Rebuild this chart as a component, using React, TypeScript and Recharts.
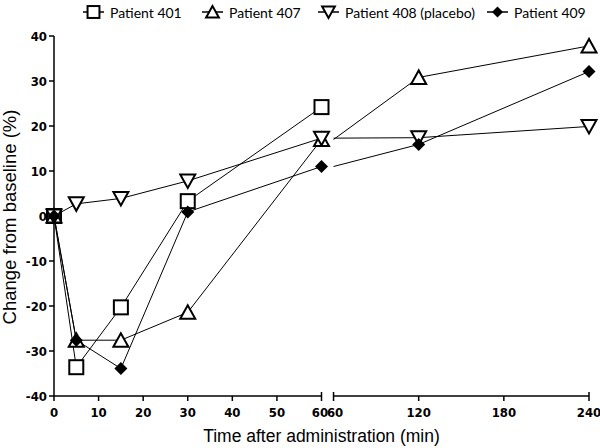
import { LineChart, Line, XAxis, YAxis, ReferenceLine } from 'recharts'

// time points (min) and % change from baseline
const times = [0, 5, 15, 30, 60, 120, 240]
const patient401 = [0, -33.6, -20.3, 3.3, 24.2, null, null]
const patient407 = [0, -27.6, -27.6, -21.4, 17.0, 30.8, 37.8]
const patient408 = [0, 2.7, 3.9, 7.8, 17.3, 17.4, 19.9]
const patient409 = [0, -27.6, -33.9, 0.9, 11.0, 15.9, 32.1]

const leftTicks = [0, 10, 20, 30, 40, 50, 60]
const rightTicks = [60, 120, 180, 240]
const yTicks = [-40, -30, -20, -10, 0, 10, 20, 30, 40]

// broken x axis: 0-60 on the left half, 60-240 compressed on the right
const BREAK_AT = 60
const GAP = 2.7
const RIGHT_SCALE = 57.3 / 180
const X_MAX = 120
const toPos = (t: number, seg: number) => (seg === 1 ? t : BREAK_AT + GAP + (t - BREAK_AT) * RIGHT_SCALE)

type Row = { pos: number; hideDot?: boolean; [k: string]: number | null | boolean | undefined }

const rows: Row[] = []
times.forEach((t, i) => {
  if (t <= BREAK_AT)
    rows.push({ pos: toPos(t, 1), p401: patient401[i], p407: patient407[i], p408: patient408[i], p409: patient409[i] })
})
rows.push({ pos: BREAK_AT + GAP / 2, p401: null, p407: null, p408: null, p409: null })
times.forEach((t, i) => {
  if (t >= BREAK_AT)
    rows.push({
      pos: toPos(t, 2),
      hideDot: t === BREAK_AT,
      p401: patient401[i],
      p407: patient407[i],
      p408: patient408[i],
      p409: patient409[i],
    })
})

const xTickPos = [...leftTicks.map((t) => toPos(t, 1)), ...rightTicks.map((t) => toPos(t, 2))]
const xTickText = [...leftTicks, ...rightTicks]
const segEnds = [toPos(BREAK_AT, 1), toPos(BREAK_AT, 2), toPos(240, 2)]

const NARROW = "'Liberation Sans Narrow', 'Arial Narrow', 'DejaVu Sans Condensed', Arial, sans-serif"
const ARIAL = "'Liberation Sans', Arial, sans-serif"

type Shape = 'square' | 'up' | 'down' | 'diamond'

function Marker({ cx, cy, shape, s = 1 }: { cx: number; cy: number; shape: Shape; s?: number }) {
  if (shape === 'square')
    return <rect x={cx - 7 * s} y={cy - 7 * s} width={14 * s} height={14 * s} fill="#fff" stroke="#000" strokeWidth={2} />
  if (shape === 'up')
    return (
      <polygon
        points={`${cx},${cy - 7 * s} ${cx - 7.5 * s},${cy + 6.5 * s} ${cx + 7.5 * s},${cy + 6.5 * s}`}
        fill="#fff"
        stroke="#000"
        strokeWidth={2}
      />
    )
  if (shape === 'down')
    return (
      <polygon
        points={`${cx - 7.5 * s},${cy - 6.5 * s} ${cx + 7.5 * s},${cy - 6.5 * s} ${cx},${cy + 7 * s}`}
        fill="#fff"
        stroke="#000"
        strokeWidth={2}
      />
    )
  return (
    <polygon
      points={`${cx},${cy - 6.5 * s} ${cx + 6.5 * s},${cy} ${cx},${cy + 6.5 * s} ${cx - 6.5 * s},${cy}`}
      fill="#000"
    />
  )
}

const makeDot = (shape: Shape) => (props: any) => {
  const { cx, cy, payload, value, index, dataKey } = props
  if (value == null || cy == null || payload?.hideDot) return <g key={`${dataKey}-${index}`} />
  return (
    <g key={`${dataKey}-${index}`}>
      <Marker cx={cx} cy={cy} shape={shape} />
    </g>
  )
}

function XTick(props: any) {
  const { x, y, payload, index } = props
  const isEnd = segEnds.some((p) => Math.abs(p - payload.value) < 0.01)
  // the two "60" labels at the break sit almost against each other
  const nudge = index === leftTicks.length - 1 ? -1.5 : index === leftTicks.length ? 1.5 : 0
  return (
    <g>
      <line x1={x} x2={x} y1={isEnd ? y - 4 : y} y2={y + 5} stroke="#000" strokeWidth={1.5} />
      <text x={x + nudge} y={y + 21} textAnchor="middle" fontFamily={NARROW} fontWeight="bold" fontSize={13} fill="#000">
        {xTickText[index]}
      </text>
    </g>
  )
}

function XTitle(props: any) {
  const vb = props.viewBox || { x: 54, y: 396, width: 535 }
  return (
    <text x={vb.x + vb.width / 2} y={vb.y + 46} textAnchor="middle" fontFamily={ARIAL} fontSize={17.5} fill="#000">
      Time after administration (min)
    </text>
  )
}

function YTitle(props: any) {
  const vb = props.viewBox || { x: 0, y: 36, height: 360 }
  const cy = vb.y + vb.height / 2 + 1
  return (
    <text
      x={15.5}
      y={cy}
      transform={`rotate(-90 15.5 ${cy})`}
      textAnchor="middle"
      fontFamily={ARIAL}
      fontSize={18.5}
      fill="#000"
    >
      Change from baseline (%)
    </text>
  )
}

const series: { key: string; name: string; shape: Shape }[] = [
  { key: 'p401', name: 'Patient 401', shape: 'square' },
  { key: 'p407', name: 'Patient 407', shape: 'up' },
  { key: 'p408', name: 'Patient 408 (placebo)', shape: 'down' },
  { key: 'p409', name: 'Patient 409', shape: 'diamond' },
]

const legendLeft = [83, 202, 318, 487]

function LegendRow() {
  return (
    <div style={{ position: 'absolute', left: 0, top: 0, width: 600, height: 26 }}>
      {series.map((s, i) => (
        <div
          key={s.key}
          style={{ position: 'absolute', left: legendLeft[i], top: 3, height: 18, display: 'flex', alignItems: 'center' }}
        >
          <svg width={21} height={18}>
            <line x1={0} x2={21} y1={9} y2={9} stroke="#000" strokeWidth={1.5} />
            <Marker cx={10.5} cy={9} shape={s.shape} s={0.85} />
          </svg>
          <span style={{ marginLeft: 6, fontFamily: 'Lato, sans-serif', fontSize: 14, color: '#000', whiteSpace: 'nowrap' }}>
            {s.name}
          </span>
        </div>
      ))}
    </div>
  )
}

export default function App() {
  return (
    <div style={{ position: 'absolute', left: 0, top: 0, width: 600, height: 448, background: '#fff' }}>
      <LineChart width={600} height={448} data={rows} margin={{ top: 36, right: 11, bottom: 0, left: 0 }}>
        <XAxis
          dataKey="pos"
          type="number"
          domain={[0, X_MAX]}
          ticks={xTickPos}
          interval={0}
          axisLine={false}
          tickLine={false}
          tickSize={0}
          tickMargin={0}
          height={52}
          tick={<XTick />}
          label={<XTitle />}
        />
        <YAxis
          type="number"
          domain={[-40, 40]}
          ticks={yTicks}
          interval={0}
          width={54}
          axisLine={{ stroke: '#000', strokeWidth: 1.5 }}
          tickLine={{ stroke: '#000', strokeWidth: 1.5 }}
          tickSize={5}
          tickMargin={2}
          tick={{ fill: '#000', fontSize: 13, fontWeight: 'bold', fontFamily: NARROW }}
          label={<YTitle />}
        />
        <ReferenceLine
          segment={[
            { x: 0, y: -40 },
            { x: toPos(BREAK_AT, 1), y: -40 },
          ]}
          stroke="#000"
          strokeWidth={1.5}
        />
        <ReferenceLine
          segment={[
            { x: toPos(BREAK_AT, 2), y: -40 },
            { x: X_MAX, y: -40 },
          ]}
          stroke="#000"
          strokeWidth={1.5}
        />
        {series.map((s) => (
          <Line
            key={s.key}
            dataKey={s.key}
            name={s.name}
            type="linear"
            stroke="#000"
            strokeWidth={1}
            dot={makeDot(s.shape)}
            activeDot={false}
            connectNulls={false}
            isAnimationActive={false}
          />
        ))}
      </LineChart>
      <LegendRow />
    </div>
  )
}
